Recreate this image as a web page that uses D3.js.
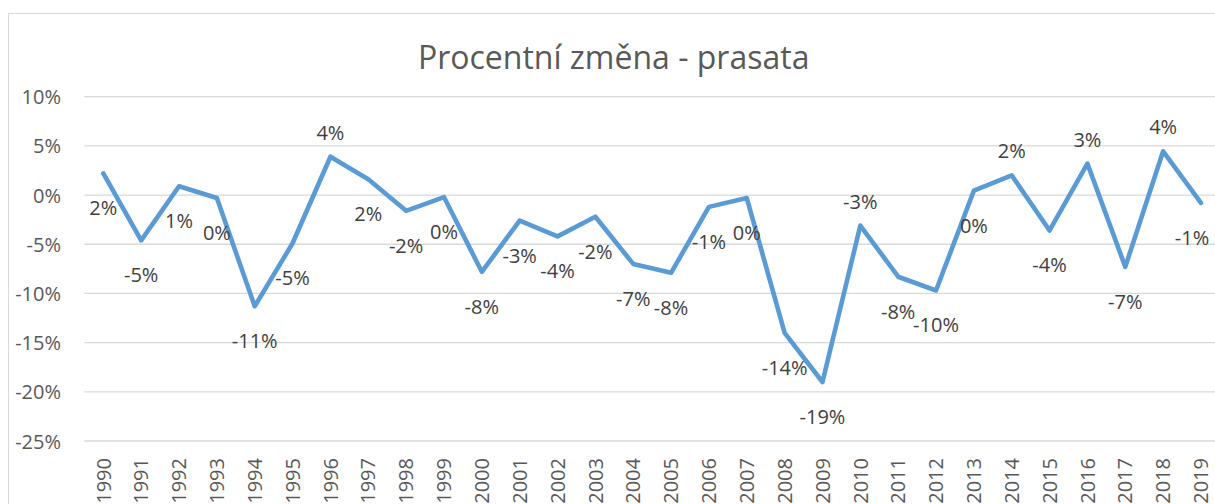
<!DOCTYPE html>
<html>
<head>
<meta charset="utf-8">
<script src="https://cdn.jsdelivr.net/npm/d3@7"></script>
<style>
  body { margin: 0; background: #fff; }
  svg text { font-family: "Open Sans", sans-serif; }
</style>
</head>
<body>
<div id="chart"></div>
<script>
// data (percent change per year)
var years = ["1990", "1991", "1992", "1993", "1994", "1995", "1996", "1997", "1998", "1999",
  "2000", "2001", "2002", "2003", "2004", "2005", "2006", "2007", "2008", "2009",
  "2010", "2011", "2012", "2013", "2014", "2015", "2016", "2017", "2018", "2019"];
var change = [2.2, -4.6, 0.9, -0.3, -11.3, -4.9, 3.9, 1.6, -1.6, -0.2,
  -7.8, -2.6, -4.2, -2.2, -7.0, -7.9, -1.2, -0.3, -14.0, -19.0,
  -3.1, -8.3, -9.7, 0.45, 2.0, -3.6, 3.2, -7.3, 4.45, -0.8];
var yTicks = [10, 5, 0, -5, -10, -15, -20, -25];
var chartTitle = "Procentní změna - prasata";

var svgWidth = 1215;
var svgHeight = 504;

var svg = d3.select("#chart")
    .append("svg")
    .attr("width", svgWidth)
    .attr("height", svgHeight);

// outer chart border (runs off the right and bottom of the shot)
svg.append("rect")
    .attr("x", 8.5)
    .attr("y", 13.5)
    .attr("width", 1300)
    .attr("height", 600)
    .attr("fill", "#fff")
    .attr("stroke", "#d9d9d9")
    .attr("stroke-width", 1);

var plotLeft = 84.4;
var step = 37.85;

var xScale = d3.scaleBand()
    .domain(years)
    .range([plotLeft, plotLeft + step * years.length]);

var yScale = d3.scaleLinear()
    .domain([-25, 10])
    .range([441, 96.7]);

// plain hyphen like excel, not the unicode minus
function pct(v) {
    var r = Math.round(v);
    if (r === 0) r = 0;
    return r + "%";
}

// gridlines
svg.append("g")
    .selectAll("line")
    .data(yTicks)
    .enter()
    .append("line")
    .attr("x1", plotLeft)
    .attr("x2", svgWidth)
    .attr("y1", d => yScale(d))
    .attr("y2", d => yScale(d))
    .attr("stroke", "#d9d9d9")
    .attr("stroke-width", 1.3);

// y axis labels
var leftAxis = d3.axisLeft(yScale)
    .tickValues(yTicks)
    .tickFormat(pct)
    .tickSize(0)
    .tickPadding(0);

var yAxis = svg.append("g")
    .attr("transform", "translate(61, 0)")
    .call(leftAxis);
yAxis.select(".domain").remove();
yAxis.selectAll("text")
    .attr("font-size", 20)
    .attr("font-family", "Open Sans")
    .attr("fill", "#595959")
    .attr("dy", "0.35em");

// x axis labels, rotated
var bottomAxis = d3.axisBottom(xScale).tickSize(0).tickPadding(0);
var xAxis = svg.append("g")
    .attr("transform", "translate(0, 441)")
    .call(bottomAxis);
xAxis.select(".domain").remove();
xAxis.selectAll("text")
    .attr("font-size", 20)
    .attr("font-family", "Open Sans")
    .attr("fill", "#595959")
    .attr("transform", "rotate(-90)")
    .attr("text-anchor", "end")
    .attr("x", -17)
    .attr("y", 0)
    .attr("dy", "0.36em");

// the line
var line = d3.line()
    .x((d, i) => xScale(years[i]) + xScale.bandwidth() / 2)
    .y(d => yScale(d));

svg.append("path")
    .datum(change)
    .attr("d", line)
    .attr("fill", "none")
    .attr("stroke", "#5b9bd5")
    .attr("stroke-width", 4.6)
    .attr("stroke-linejoin", "round")
    .attr("stroke-linecap", "round");

// data labels - most sit under the point, a few above
var aboveYears = ["1996", "2010", "2014", "2016", "2018"];

svg.append("g")
    .selectAll("text")
    .data(change)
    .enter()
    .append("text")
    .attr("x", (d, i) => Math.min(xScale(years[i]) + xScale.bandwidth() / 2, 1192))
    .attr("y", (d, i) => aboveYears.indexOf(years[i]) >= 0 ? yScale(d) - 17 : yScale(d) + 42)
    .attr("text-anchor", "middle")
    .attr("font-size", 20)
    .attr("fill", "#404040")
    .text(d => pct(d));

// title
svg.append("text")
    .attr("x", 613.7)
    .attr("y", 69)
    .attr("text-anchor", "middle")
    .attr("font-size", 32)
    .attr("fill", "#595959")
    .text(chartTitle);
</script>
</body>
</html>
